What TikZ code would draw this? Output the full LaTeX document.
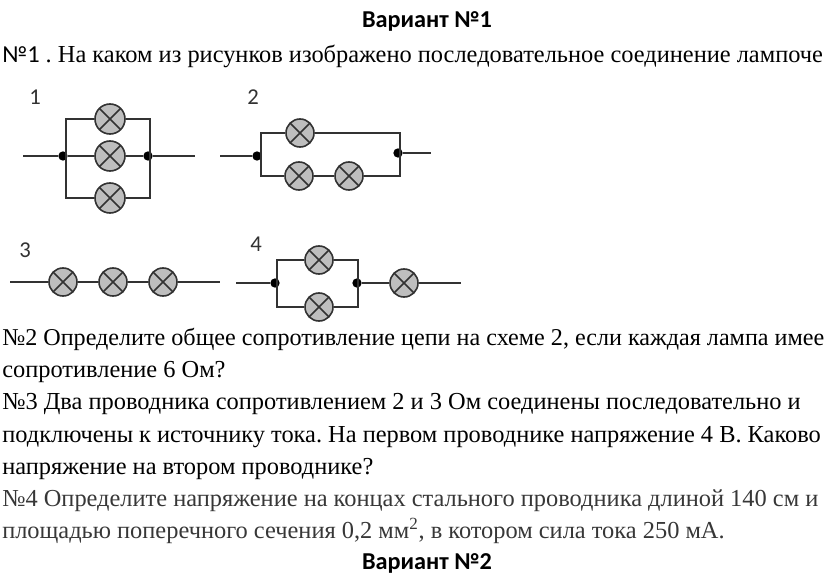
\documentclass[tikz,border=0pt]{standalone}
\usepackage{fontspec}
\setmainfont{Liberation Serif}
\newfontfamily\headfont{Carlito}
\usetikzlibrary{positioning}
\definecolor{lampgray}{RGB}{190,190,190}
\definecolor{wiregray}{RGB}{50,50,50}
\definecolor{fadedtext}{RGB}{55,55,55}
\tikzset{
  lamp/.style={circle, draw=wiregray, fill=lampgray, line width=1.2pt, minimum size=21pt, inner sep=0pt,
    path picture={
      \draw[wiregray, line width=1.2pt] (path picture bounding box.north west) -- (path picture bounding box.south east)
        (path picture bounding box.north east) -- (path picture bounding box.south west);
    }},
  biglamp/.style={lamp, minimum size=22.5pt},
  dot/.style={circle, fill=black, minimum size=7pt, inner sep=0pt},
  wire/.style={draw=wiregray, line width=1.3pt},
  txt/.style={anchor=base west, inner sep=0pt, font=\frenchspacing\fontsize{18.3pt}{20pt}\selectfont},
  head/.style={anchor=base, inner sep=0pt, font=\headfont\bfseries\fontsize{18.2pt}{20pt}\selectfont},
  num/.style={inner sep=0pt, text=wiregray, font=\headfont\fontsize{17pt}{19pt}\selectfont}
}
\begin{document}
\begin{tikzpicture}[x=0.75pt, y=-0.75pt]
    \useasboundingbox (0,0) rectangle (824,574);
    % text
    \node[head] (v1) at (427,28) {Вариант №1};
    \node[txt] (q1) at (2,63) {{\headfont №1} . На каком из рисунков изображено последовательное соединение лампоче};
    \node[txt, font=\frenchspacing\fontsize{18.1pt}{20pt}\selectfont] (q2a) at (2,345) {№2 Определите общее сопротивление цепи на схеме 2, если каждая лампа имее};
    \node[txt] (q2b) at (2,377) {сопротивление 6 Ом?};
    \node[txt] (q3a) at (2,409) {№3 Два проводника сопротивлением 2 и 3 Ом соединены последовательно и};
    \node[txt] (q3b) at (2,442) {подключены к источнику тока. На первом проводнике напряжение 4 В. Каково};
    \node[txt] (q3c) at (2,474) {напряжение на втором проводнике?};
    \node[txt, text=fadedtext] (q4a) at (2,506) {№4 Определите напряжение на концах стального проводника длиной 140 см и};
    \node[txt, text=fadedtext] (q4b) at (2,538) {площадью поперечного сечения 0,2 мм\textsuperscript{2}, в котором сила тока 250 мА.};
    \node[head] (v2) at (427,569) {Вариант №2};

    \node[num] (n1) at (35,97) {1};
    \node[num] (n2) at (253,97) {2};
    \node[num] (n3) at (25,250) {3};
    \node[num] (n4) at (256,244) {4};

    % scheme 1
    \node[biglamp] (a1) at (110,119) {};
    \node[biglamp] (a2) at (110,156) {};
    \node[biglamp] (a3) at (110,198) {};
    \node[dot] (ja) at (63,156) {};
    \node[dot] (ka) at (148,156) {};
    \coordinate (sa) at (23,156);
    \coordinate (ea) at (195,156);
    \coordinate (ta) at (66,119);
    \coordinate (ba) at (66,198);
    \coordinate (ua) at (150,119);
    \coordinate (va) at (150,198);
    \draw[wire] (sa) -- (ja) -- (a2) -- (ka) -- (ea);
    \draw[wire] (a1) -- (ta) -- (ba) -- (a3) -- (va) -- (ua) -- (a1);

    % scheme 2
    \node[lamp] (b1) at (300,133) {};
    \node[lamp] (b2) at (299,176) {};
    \node[lamp] (b3) at (349,176) {};
    \node[dot] (jb) at (257,156) {};
    \node[dot] (kb) at (398,153) {};
    \coordinate (sb) at (220,156);
    \coordinate (eb) at (431,153);
    \coordinate (tb) at (261,133);
    \coordinate (bb) at (261,176);
    \coordinate (ub) at (400,133);
    \coordinate (vb) at (400,176);
    \draw[wire] (sb) -- (jb);
    \draw[wire] (kb) -- (eb);
    \draw[wire] (b1) -- (tb) -- (bb) -- (b2) -- (b3) -- (vb) -- (ub) -- (b1);

    % scheme 3
    \coordinate (sc) at (10,282);
    \coordinate (ec) at (220,282);
    \foreach \k/\x in {1/63, 2/113, 3/163}
      \node[lamp] (c\k) at (\x,282) {};
    \draw[wire] (sc) -- (c1) -- (c2) -- (c3) -- (ec);

    % scheme 4
    \node[lamp] (d1) at (319,260) {};
    \node[lamp] (d2) at (319,307) {};
    \node[lamp] (d3) at (404,283) {};
    \node[dot] (jd) at (275,283) {};
    \node[dot] (kd) at (357,283) {};
    \coordinate (sd) at (236,283);
    \coordinate (ed) at (461,283);
    \coordinate (td) at (277,260);
    \coordinate (bd) at (277,307);
    \coordinate (ud) at (358,260);
    \coordinate (vd) at (358,307);
    \draw[wire] (sd) -- (jd);
    \draw[wire] (kd) -- (d3) -- (ed);
    \draw[wire] (d1) -- (td) -- (bd) -- (d2) -- (vd) -- (ud) -- (d1);
\end{tikzpicture}
\end{document}
